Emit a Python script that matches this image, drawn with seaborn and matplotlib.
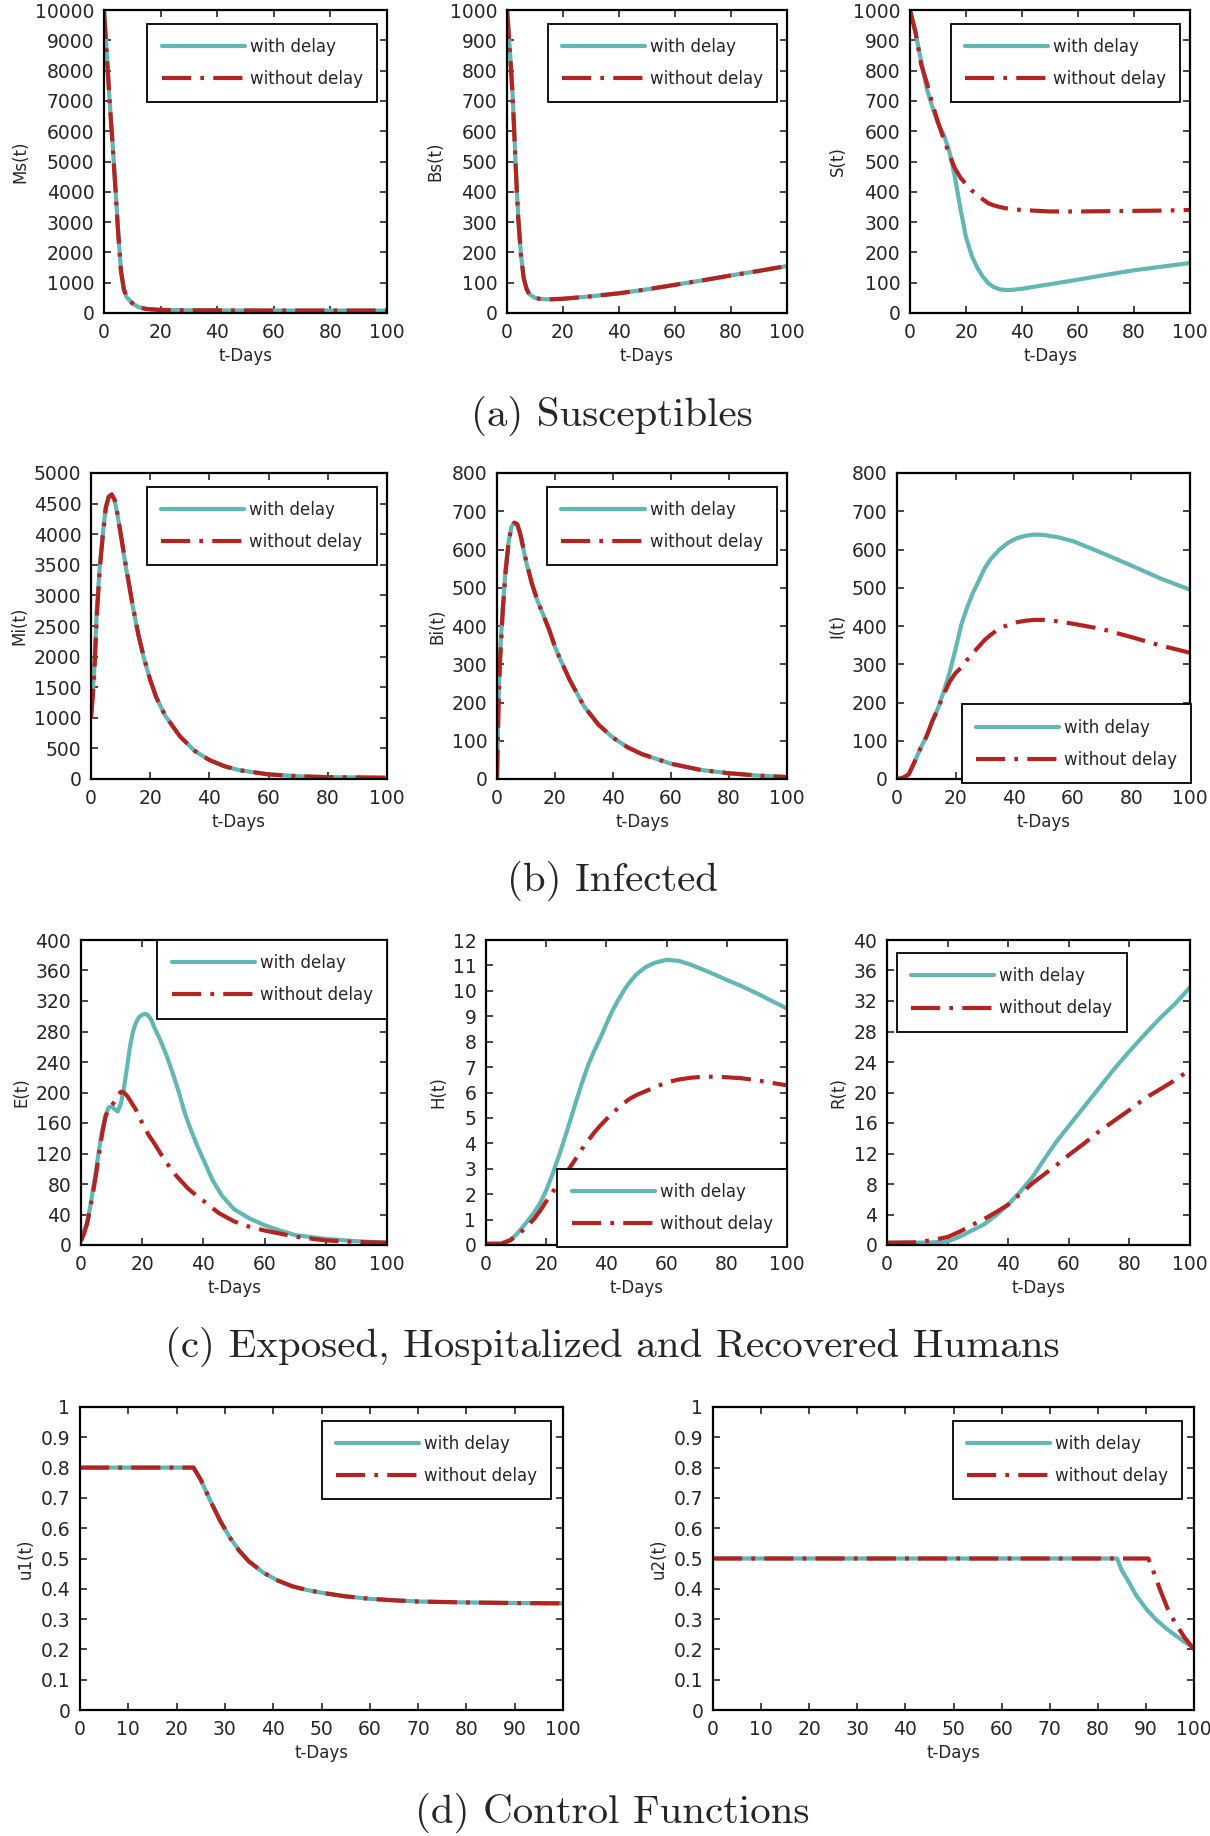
import numpy as np
import pandas as pd
import matplotlib
matplotlib.use("Agg")
import matplotlib.pyplot as plt
import seaborn as sns

# ---- data ----
Ms_t = [0, 0.5, 1, 1.5, 2, 3, 4, 5, 6, 7, 8, 10, 12, 15, 20, 30, 40, 60, 80, 100]
Ms_delay = [10000, 9300, 8500, 7800, 7000, 5650, 4200, 2700, 1400, 800, 520, 330, 200, 135, 100, 90, 85, 80, 80, 80]
Ms_nodelay = [10000, 9250, 8450, 7750, 6950, 5600, 4150, 2650, 1380, 790, 510, 320, 195, 130, 100, 90, 85, 80, 80, 80]

Bs_t = [0, 0.5, 1, 1.5, 2, 2.5, 3, 3.5, 4, 5, 6, 7, 8, 10, 12, 15, 20, 30, 40, 50, 60, 70, 80, 90, 100]
Bs_delay = [1000, 940, 870, 800, 720, 620, 510, 410, 320, 190, 115, 80, 62, 50, 46, 45, 47, 55, 65, 78, 93, 108, 124, 139, 155]
Bs_nodelay = [1000, 935, 865, 795, 715, 615, 505, 405, 315, 188, 113, 79, 61, 50, 46, 45, 47, 55, 65, 78, 93, 108, 124, 139, 155]

S_t = [0, 2, 4, 6, 8, 10, 12, 14, 16, 18, 20, 22, 24, 26, 28, 30, 32, 34, 36, 40, 50, 60, 70, 80, 90, 100]
S_delay = [1000, 925, 830, 740, 680, 625, 590, 535, 450, 345, 250, 190, 150, 120, 98, 85, 78, 76, 76, 80, 95, 110, 126, 141, 153, 165]
S_nodelay = [1000, 925, 820, 760, 690, 630, 575, 525, 478, 447, 425, 405, 390, 375, 362, 355, 350, 346, 343, 340, 335, 335, 336, 337, 338, 340]

Mi_t = [0, 1, 2, 3, 4, 5, 6, 7, 8, 9, 10, 12, 14, 16, 18, 20, 22, 25, 30, 35, 40, 45, 50, 60, 70, 80, 90, 100]
Mi_delay = [1000, 1700, 2800, 3500, 4000, 4450, 4620, 4650, 4550, 4300, 4000, 3400, 2850, 2350, 1950, 1620, 1340, 1040, 700, 460, 310, 210, 145, 75, 45, 30, 25, 20]
Mi_nodelay = [1000, 1600, 2700, 3450, 3980, 4430, 4610, 4650, 4560, 4320, 4020, 3420, 2860, 2360, 1960, 1620, 1340, 1040, 700, 460, 310, 210, 145, 75, 45, 30, 25, 20]

Bi_t = [0, 0.5, 1, 2, 3, 4, 5, 6, 7, 8, 9, 10, 12, 14, 16, 18, 20, 22, 25, 30, 35, 40, 45, 50, 60, 70, 80, 90, 100]
Bi_delay = [0, 200, 320, 450, 550, 620, 660, 670, 665, 640, 605, 570, 510, 465, 428, 390, 345, 310, 260, 190, 142, 108, 83, 65, 40, 24, 15, 9, 5]
Bi_nodelay = [0, 180, 300, 440, 545, 618, 660, 670, 666, 642, 607, 572, 512, 466, 428, 390, 345, 310, 260, 190, 142, 108, 83, 65, 40, 24, 15, 9, 5]

I_t = [0, 2, 4, 6, 8, 10, 12, 14, 16, 18, 20, 22, 24, 26, 28, 30, 32, 35, 38, 41, 44, 47, 50, 55, 60, 70, 80, 90, 100]
I_delay = [0, 3, 12, 45, 80, 110, 150, 185, 230, 280, 340, 405, 450, 488, 520, 552, 575, 600, 618, 630, 636, 639, 638, 632, 622, 591, 558, 524, 495]
I_nodelay = [0, 3, 12, 45, 80, 110, 150, 185, 222, 255, 277, 292, 312, 330, 347, 364, 377, 394, 403, 410, 414, 416, 416, 412, 406, 392, 371, 349, 330]

E_t1 = [0, 1, 2, 3, 4, 5, 6, 7, 8, 9, 10, 11, 12, 13, 14, 15, 16, 17, 18, 19, 20, 21, 22, 23, 24, 26, 28, 30, 32, 34, 36, 38, 40, 43, 46, 50, 55, 60, 65, 70, 80, 90, 100]
E_delay = [8, 18, 30, 50, 75, 100, 128, 152, 170, 180, 182, 178, 175, 185, 205, 232, 260, 280, 292, 299, 302, 303, 301, 295, 285, 268, 248, 225, 200, 172, 150, 130, 112, 85, 65, 47, 35, 26, 19, 13, 8, 5, 3]
E_t2 = [0, 1, 2, 3, 4, 5, 6, 7, 8, 9, 10, 11, 12, 13, 14, 15, 16, 18, 20, 22, 24, 26, 28, 30, 32, 35, 38, 40, 45, 50, 55, 60, 70, 80, 90, 100]
E_nodelay = [5, 15, 28, 48, 70, 95, 122, 148, 168, 178, 183, 188, 195, 201, 200, 196, 190, 177, 160, 145, 133, 120, 108, 96, 87, 74, 64, 58, 42, 31, 24, 19, 11, 6, 4, 3]

H_t = [0, 5, 8, 10, 12, 14, 16, 18, 20, 22, 24, 26, 28, 30, 32, 34, 36, 38, 40, 42, 44, 46, 48, 50, 53, 56, 60, 64, 68, 72, 76, 80, 85, 90, 95, 100]
H_delay = [0.05, 0.05, 0.2, 0.4, 0.68, 0.97, 1.28, 1.65, 2.15, 2.75, 3.43, 4.15, 4.9, 5.68, 6.42, 7.1, 7.65, 8.15, 8.7, 9.22, 9.65, 10.05, 10.38, 10.65, 10.93, 11.1, 11.22, 11.18, 11.03, 10.84, 10.64, 10.43, 10.18, 9.9, 9.6, 9.3]
H_nodelay = [0.05, 0.05, 0.18, 0.35, 0.55, 0.78, 1.03, 1.35, 1.72, 2.05, 2.42, 2.73, 3.07, 3.43, 3.8, 4.12, 4.43, 4.7, 4.95, 5.18, 5.4, 5.6, 5.77, 5.9, 6.05, 6.2, 6.4, 6.51, 6.58, 6.62, 6.62, 6.6, 6.56, 6.48, 6.38, 6.28]

R_t = [0, 10, 15, 20, 24, 28, 32, 36, 40, 44, 48, 52, 56, 60, 65, 70, 75, 80, 85, 90, 95, 100]
R_delay = [0.3, 0.3, 0.35, 0.45, 1.1, 1.9, 2.7, 3.9, 5.3, 7.0, 8.9, 11.3, 13.6, 15.6, 18.1, 20.6, 23.1, 25.4, 27.6, 29.7, 31.6, 33.8]
R_nodelay = [0.3, 0.35, 0.65, 1.05, 1.75, 2.6, 3.4, 4.3, 5.3, 6.7, 8.1, 9.3, 10.5, 11.8, 13.3, 14.9, 16.3, 17.7, 19.2, 20.4, 21.6, 23.0]

u1_t = [0, 23.5, 25, 27, 29, 31, 33, 35, 38, 41, 44, 47, 50, 55, 60, 65, 70, 80, 90, 100]
u1_delay = [0.8, 0.8, 0.76, 0.69, 0.625, 0.57, 0.525, 0.49, 0.453, 0.427, 0.408, 0.396, 0.387, 0.375, 0.367, 0.362, 0.358, 0.355, 0.353, 0.352]
u1_nodelay = u1_delay

u2_t1 = [0, 84, 85, 86, 88, 90, 92, 94, 96, 98, 100]
u2_delay = [0.5, 0.5, 0.46, 0.435, 0.378, 0.335, 0.3, 0.272, 0.248, 0.225, 0.205]
u2_t2 = [0, 90.5, 91.5, 93, 94.5, 96, 98, 100]
u2_nodelay = [0.5, 0.5, 0.46, 0.395, 0.335, 0.29, 0.24, 0.2]

captions = ["(a) Susceptibles", "(b) Infected",
            "(c) Exposed, Hospitalized and Recovered Humans", "(d) Control Functions"]

teal = "#62b6b4"
red = "#b3231f"

sns.set_style("ticks")
plt.rcParams['font.family'] = ['DejaVu Sans']

fig = plt.figure(figsize=(12.1, 18.36), dpi=100)
W, H = 1210, 1836

def make_ax(x0, y0, x1, y1):
    return fig.add_axes([x0 / W, 1 - y1 / H, (x1 - x0) / W, (y1 - y0) / H])

panels = [
    # rect, t-delay, delay, t-nodelay, nodelay, ylabel, ymax, ystep, xstep, legend loc, anchor
    ((104, 10, 387, 313), Ms_t, Ms_delay, Ms_t, Ms_nodelay, "Ms(t)", 10000, 1000, 20, "upper right", (0.965, 0.955)),
    ((507, 10, 787, 313), Bs_t, Bs_delay, Bs_t, Bs_nodelay, "Bs(t)", 1000, 100, 20, "upper right", (0.965, 0.955)),
    ((910, 10, 1190, 313), S_t, S_delay, S_t, S_nodelay, "S(t)", 1000, 100, 20, "upper right", (0.965, 0.955)),
    ((91, 473, 387, 779), Mi_t, Mi_delay, Mi_t, Mi_nodelay, "Mi(t)", 5000, 500, 20, "upper right", (0.965, 0.955)),
    ((497, 473, 787, 779), Bi_t, Bi_delay, Bi_t, Bi_nodelay, "Bi(t)", 800, 100, 20, "upper right", (0.965, 0.955)),
    ((897, 473, 1190, 779), I_t, I_delay, I_t, I_nodelay, "I(t)", 800, 100, 20, "lower right", (1.005, -0.013)),
    ((81, 940, 387, 1245), E_t1, E_delay, E_t2, E_nodelay, "E(t)", 400, 40, 20, "upper right", (1.0, 1.0)),
    ((486, 940, 787, 1245), H_t, H_delay, H_t, H_nodelay, "H(t)", 12, 1, 20, "lower right", (1.0, -0.007)),
    ((887, 940, 1190, 1245), R_t, R_delay, R_t, R_nodelay, "R(t)", 40, 4, 20, "upper left", (0.033, 0.957)),
    ((80, 1407, 563, 1710), u1_t, u1_delay, u1_t, u1_nodelay, "u1(t)", 1, 0.1, 10, "upper right", (0.976, 0.954)),
    ((713, 1407, 1194, 1710), u2_t1, u2_delay, u2_t2, u2_nodelay, "u2(t)", 1, 0.1, 10, "upper right", (0.976, 0.954)),
]

for rect, t1, y1, t2, y2, ylab, ymax, ystep, xstep, loc, anchor in panels:
    ax = make_ax(*rect)
    sns.lineplot(x=t1, y=y1, ax=ax, color=teal, lw=3.0, label="with delay")
    sns.lineplot(x=t2, y=y2, ax=ax, color=red, lw=3.0, ls=(0, (7, 2.2, 0.9, 2.2)), label="without delay")
    ax.set_xlim(0, 100)
    ax.set_ylim(0, ymax)
    ax.set_xticks(np.arange(0, 101, xstep))
    yt = np.round(np.arange(0, ymax + ystep / 2, ystep), 2)
    ax.set_yticks(yt)
    ax.set_yticklabels(["%g" % v for v in yt])
    ax.set_xlabel("t-Days", fontsize=12)
    ax.set_ylabel(ylab, fontsize=12, labelpad=4)
    ax.tick_params(direction="in", length=5, width=1.2, labelsize=13.5,
                   top=True, right=True, pad=7)
    for s in ax.spines.values():
        s.set_linewidth(1.6)
        s.set_color("black")
    leg = ax.legend(loc=loc, bbox_to_anchor=anchor, borderaxespad=0, fontsize=12,
                    handlelength=5.0, handletextpad=0.3, labelspacing=0.85, borderpad=0.85,
                    fancybox=False, framealpha=1, edgecolor="black")
    leg.get_frame().set_linewidth(1.3)

cap_y = [416, 881, 1347, 1813]
for txt, y in zip(captions, cap_y):
    fig.text(612 / W, 1 - y / H, txt, ha="center", va="center", fontsize=29.5, family="cmr10")

fig.savefig("out.png", dpi=100)
